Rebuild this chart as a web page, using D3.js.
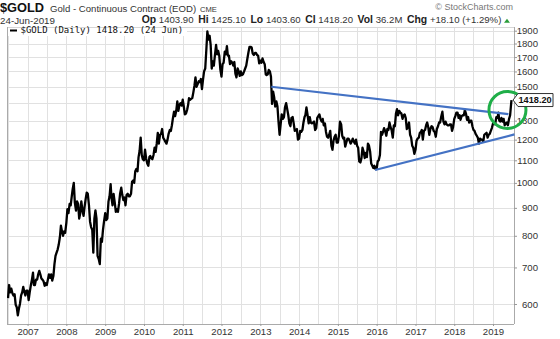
<!DOCTYPE html>
<html>
<head>
<meta charset="utf-8">
<script src="https://cdn.jsdelivr.net/npm/d3@7"></script>
<style>
  body { margin: 0; background: #fff; }
  svg { display: block; }
</style>
</head>
<body>
<svg id="chart" width="560" height="339"></svg>
<script>
// COMEX gold, continuous contract: closes sampled on the 1st, 11th and 21st of each month.
const g2006 = [615, 650, 630, 640, 628, 622, 625, 598, 592, 572, 588, 600, 622, 630, 645, 632, 622, 635]; // from 1 Jul
const g2007 = [635, 610, 630, 650, 665, 685, 650, 650, 665, 665, 680, 690, 680, 668, 665, 660, 648, 655, 650, 665, 680, 670, 680, 662, 675, 710, 735, 745, 755, 770, 795, 835, 815, 800, 815, 810];
const g2008 = [845, 895, 880, 915, 910, 945, 975, 1000, 920, 890, 925, 915, 860, 880, 925, 890, 870, 905, 935, 960, 955, 910, 850, 830, 820, 745, 860, 890, 860, 735, 725, 710, 790, 780, 820, 850];
const g2009 = [880, 855, 860, 925, 945, 995, 940, 910, 955, 920, 885, 895, 885, 915, 955, 980, 950, 930, 940, 910, 950, 955, 945, 945, 955, 1005, 1010, 1000, 1050, 1060, 1050, 1115, 1145, 1210, 1125, 1105];
const g2010 = [1100, 1150, 1110, 1085, 1075, 1115, 1120, 1110, 1105, 1125, 1160, 1140, 1180, 1235, 1180, 1225, 1230, 1255, 1210, 1200, 1190, 1180, 1200, 1230, 1250, 1245, 1275, 1315, 1350, 1325, 1355, 1410, 1355, 1390, 1400, 1385];
const g2011 = [1420, 1380, 1335, 1340, 1360, 1390, 1430, 1420, 1425, 1430, 1465, 1505, 1560, 1500, 1515, 1535, 1530, 1550, 1485, 1545, 1600, 1620, 1750, 1895, 1830, 1860, 1790, 1620, 1670, 1640, 1720, 1790, 1720, 1745, 1710, 1615];
const g2012 = [1565, 1650, 1660, 1740, 1720, 1780, 1710, 1710, 1650, 1670, 1660, 1640, 1665, 1585, 1560, 1620, 1600, 1570, 1600, 1575, 1580, 1600, 1620, 1640, 1690, 1735, 1775, 1775, 1770, 1725, 1715, 1730, 1730, 1715, 1710, 1655];
const g2013 = [1675, 1660, 1690, 1665, 1650, 1580, 1575, 1580, 1610, 1600, 1565, 1395, 1470, 1435, 1380, 1410, 1380, 1295, 1225, 1280, 1335, 1310, 1320, 1375, 1400, 1365, 1330, 1285, 1270, 1315, 1320, 1285, 1245, 1250, 1255, 1200];
const g2014 = [1205, 1245, 1240, 1250, 1290, 1320, 1330, 1375, 1335, 1285, 1320, 1290, 1285, 1290, 1295, 1250, 1260, 1315, 1325, 1335, 1310, 1295, 1310, 1275, 1285, 1240, 1215, 1210, 1225, 1245, 1170, 1150, 1195, 1215, 1225, 1185];
const g2015 = [1185, 1220, 1295, 1280, 1220, 1205, 1210, 1165, 1185, 1205, 1205, 1195, 1180, 1190, 1205, 1190, 1180, 1200, 1170, 1160, 1095, 1090, 1110, 1160, 1140, 1110, 1135, 1115, 1180, 1170, 1140, 1085, 1075, 1065, 1075, 1060];
const g2016 = [1060, 1095, 1100, 1125, 1240, 1225, 1240, 1260, 1245, 1220, 1255, 1250, 1290, 1265, 1250, 1210, 1275, 1270, 1340, 1365, 1330, 1355, 1345, 1340, 1310, 1330, 1335, 1315, 1255, 1265, 1290, 1225, 1210, 1170, 1160, 1130];
const g2017 = [1150, 1195, 1205, 1210, 1235, 1240, 1250, 1200, 1245, 1250, 1275, 1290, 1265, 1225, 1255, 1270, 1265, 1245, 1240, 1215, 1255, 1270, 1290, 1290, 1325, 1350, 1295, 1280, 1295, 1280, 1275, 1275, 1280, 1280, 1245, 1265];
const g2018 = [1310, 1325, 1345, 1345, 1315, 1330, 1305, 1325, 1330, 1330, 1360, 1340, 1305, 1320, 1290, 1300, 1300, 1270, 1250, 1245, 1230, 1220, 1210, 1180, 1205, 1200, 1200, 1190, 1225, 1230, 1235, 1210, 1225, 1230, 1245, 1260];
const g2019 = [1285, 1290, 1280, 1320, 1315, 1345, 1300, 1295, 1315, 1295, 1310, 1275, 1285, 1290, 1275, 1310, 1330, 1400]; // to 21 Jun
const lastDate = "2019-06-24";
const lastClose = 1418.20;

const yearTicks = [2007, 2008, 2009, 2010, 2011, 2012, 2013, 2014, 2015, 2016, 2017, 2018, 2019];
const priceTicks = [600, 700, 800, 900, 1000, 1100, 1200, 1300, 1500, 1600, 1700, 1800, 1900];
const gridPrices = [600, 700, 800, 900, 1000, 1100, 1200, 1300, 1400, 1500, 1600, 1700, 1800, 1900];

// Hand-drawn triangle: falling resistance and rising support
const upperTrend = [["2013-04-14", 1500], ["2019-05-26", 1336]];
const lowerTrend = [["2015-12-17", 1056], ["2019-07-22", 1227]];
const breakout = { date: "2019-05-17", price: 1360 };

const quoteHeader = [
  ["Op", "1403.90"], ["Hi", "1425.10"], ["Lo", "1403.60"], ["Cl", "1418.20"],
  ["Vol", "36.2M"], ["Chg", "+18.10 (+1.29%)"]
];

// ---------- build the series ----------
const parse = d3.timeParse("%Y-%m-%d");
const sampleDays = [1, 11, 21];
const yearly = [
  [2006, g2006, 6], [2007, g2007, 0], [2008, g2008, 0], [2009, g2009, 0],
  [2010, g2010, 0], [2011, g2011, 0], [2012, g2012, 0], [2013, g2013, 0],
  [2014, g2014, 0], [2015, g2015, 0], [2016, g2016, 0], [2017, g2017, 0],
  [2018, g2018, 0], [2019, g2019, 0]
];
const series = [];
for (const [yr, vals, m0] of yearly) {
  vals.forEach((v, i) => {
    const k = i + m0 * 3;
    series.push({ date: new Date(yr, Math.floor(k / 3), sampleDays[k % 3]), close: v });
  });
}
series.push({ date: parse(lastDate), close: lastClose });

// ---------- layout ----------
const svg = d3.select("#chart");
const plot = { left: 7, top: 27, right: 514, bottom: 324 };

const x = d3.scaleTime()
  .domain([new Date(2006, 5, 24), parse(lastDate)])
  .range([7.3, 511.5]);
const y = d3.scaleLog()
  .domain([600, 1900])
  .range([304, 30.7]);

svg.append("defs").append("clipPath").attr("id", "plotClip")
  .append("rect")
  .attr("x", plot.left).attr("y", plot.top)
  .attr("width", plot.right - plot.left).attr("height", plot.bottom - plot.top);

// grid
const grid = svg.append("g").attr("stroke", "#e1e1e1").attr("stroke-width", 1);
const halfYears = d3.timeMonth.every(6).range(x.domain()[0], x.domain()[1]);
grid.selectAll("line.v").data(halfYears).join("line")
  .attr("x1", d => Math.round(x(d)) + 0.5).attr("x2", d => Math.round(x(d)) + 0.5)
  .attr("y1", plot.top).attr("y2", plot.bottom);
grid.selectAll("line.h").data(gridPrices).join("line")
  .attr("x1", plot.left).attr("x2", plot.right)
  .attr("y1", d => Math.round(y(d)) + 0.5).attr("y2", d => Math.round(y(d)) + 0.5);

// frame
svg.append("line").attr("x1", plot.left).attr("x2", plot.right)
  .attr("y1", plot.top + 0.5).attr("y2", plot.top + 0.5).attr("stroke", "#d6d6d6");
svg.append("line").attr("x1", plot.left + 0.5).attr("x2", plot.left + 0.5)
  .attr("y1", plot.top).attr("y2", plot.bottom).attr("stroke", "#aaa");
svg.append("line").attr("x1", plot.left).attr("x2", plot.right)
  .attr("y1", plot.bottom + 0.5).attr("y2", plot.bottom + 0.5).attr("stroke", "#aaa");
svg.append("line").attr("x1", plot.right + 0.5).attr("x2", plot.right + 0.5)
  .attr("y1", plot.top).attr("y2", plot.bottom).attr("stroke", "#aaa");

// legend backdrop
svg.append("rect").attr("x", plot.left + 1).attr("y", plot.top + 1)
  .attr("width", 179).attr("height", 8).attr("fill", "#fff");

// price line
svg.append("path")
  .datum(series)
  .attr("clip-path", "url(#plotClip)")
  .attr("fill", "none")
  .attr("stroke", "#000")
  .attr("stroke-width", 2.3)
  .attr("stroke-linejoin", "round")
  .attr("d", d3.line().x(d => x(d.date)).y(d => y(d.close)));

// trend lines
const trendLine = d3.line().x(d => x(parse(d[0]))).y(d => y(d[1]));
[upperTrend, lowerTrend].forEach(t => {
  svg.append("path").datum(t)
    .attr("fill", "none").attr("stroke", "#4472c4").attr("stroke-width", 2.2)
    .attr("d", trendLine);
});

// axes
const sans = "'Liberation Sans', Arial, sans-serif";
const yAxis = svg.append("g")
  .attr("transform", `translate(${plot.right},0)`)
  .call(d3.axisRight(y).tickValues(priceTicks).tickFormat(d3.format("d")).tickSize(3));
yAxis.select(".domain").remove();
yAxis.selectAll(".tick line").attr("stroke", "#999");
yAxis.selectAll(".tick text")
  .attr("text-anchor", "end").attr("x", 24)
  .attr("fill", "#333")
  .style("font-family", sans).style("font-size", "9.6px");

const xAxis = svg.append("g")
  .attr("transform", `translate(0,${plot.bottom})`)
  .call(d3.axisBottom(x)
    .tickValues(yearTicks.map(yr => new Date(yr, 0, 1)))
    .tickFormat(d3.timeFormat("%Y"))
    .tickSize(2).tickPadding(2));
xAxis.select(".domain").remove();
xAxis.selectAll(".tick line").attr("stroke", "#999");
xAxis.selectAll(".tick text")
  .attr("fill", "#333")
  .style("font-family", sans).style("font-size", "9.6px");

// breakout highlight
svg.append("circle")
  .attr("cx", x(parse(breakout.date))).attr("cy", y(breakout.price)).attr("r", 18.5)
  .attr("fill", "none").attr("stroke", "#1fae48").attr("stroke-width", 3);

// last price tag
const tag = svg.append("g")
  .attr("transform", `translate(${plot.right - 1},${y(lastClose)})`);
tag.append("path")
  .attr("d", "M0,0 L5,-6.5 H40 V6.5 H5 Z")
  .attr("fill", "#fff").attr("stroke", "#333").attr("stroke-width", 1);
tag.append("text")
  .attr("x", 5.5).attr("dy", "0.35em")
  .style("font-family", sans)
  .style("font-size", "9.2px").style("font-weight", "bold")
  .attr("fill", "#111")
  .text(d3.format(".2f")(lastClose));

// legend
svg.append("line").attr("x1", 10).attr("x2", 17).attr("y1", 30.5).attr("y2", 30.5)
  .attr("stroke", "#000").attr("stroke-width", 2);
svg.append("text").attr("x", 20.5).attr("y", 33.2)
  .style("font-family", "'DejaVu Sans Mono', monospace").style("font-size", "9px")
  .attr("fill", "#111")
  .text(`$GOLD (Daily) ${d3.format(".2f")(lastClose)} (24 Jun)`);

// header line 1
svg.append("text").attr("x", 0).attr("y", 11.8)
  .style("font-family", sans).style("font-size", "12.8px").style("font-weight", "bold")
  .attr("fill", "#111").text("$GOLD");
svg.append("text").attr("x", 50).attr("y", 12.3)
  .style("font-family", sans).style("font-size", "9.6px")
  .attr("fill", "#333").text("Gold - Continuous Contract (EOD)");
svg.append("text").attr("x", 200).attr("y", 12.3)
  .style("font-family", sans).style("font-size", "7.6px")
  .attr("fill", "#333").text("CME");
svg.append("text").attr("x", 513).attr("y", 9.5).attr("text-anchor", "end")
  .style("font-family", sans).style("font-size", "9px")
  .attr("fill", "#777").text("\u00a9 StockCharts.com");

// header line 2
svg.append("text").attr("x", 0).attr("y", 23.5)
  .style("font-family", sans).style("font-size", "9.8px")
  .attr("fill", "#333").text("24-Jun-2019");

let cx = 141.7;
quoteHeader.forEach(([label, value]) => {
  const l = svg.append("text").attr("x", cx).attr("y", 23.3)
    .style("font-family", sans).style("font-size", "10.4px").style("font-weight", "bold")
    .attr("fill", "#222").text(label);
  cx += l.node().getComputedTextLength() + 2.7;
  const v = svg.append("text").attr("x", cx).attr("y", 23.3)
    .style("font-family", sans).style("font-size", "9.6px")
    .attr("fill", "#333").text(value);
  cx += v.node().getComputedTextLength() + 4.6;
});
svg.append("path")
  .attr("d", `M${cx - 2},22.8 L${cx + 1},18.8 L${cx + 4},22.8 Z`)
  .attr("fill", "#2a9d3a");
</script>
</body>
</html>
